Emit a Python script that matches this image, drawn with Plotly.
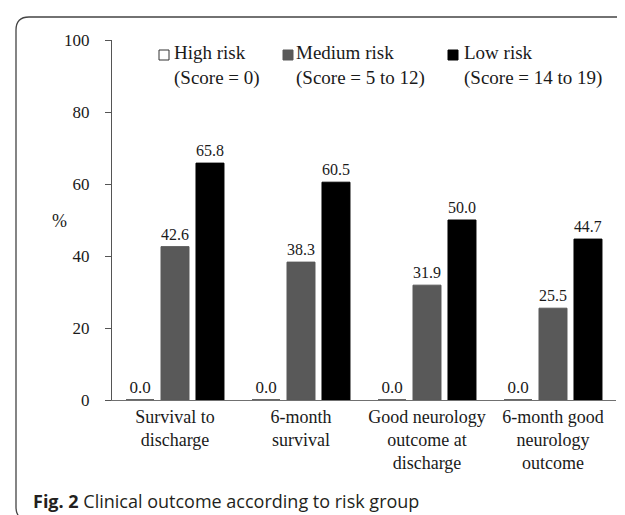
import plotly.graph_objects as go

categories = ["Survival to<br>discharge", "6-month<br>survival",
              "Good neurology<br>outcome at<br>discharge", "6-month good<br>neurology<br>outcome"]
series_names = ["High risk", "Medium risk", "Low risk"]
series_notes = ["(Score = 0)", "(Score = 5 to 12)", "(Score = 14 to 19)"]
high_risk = [0.0, 0.0, 0.0, 0.0]
medium_risk = [42.6, 38.3, 31.9, 25.5]
low_risk = [65.8, 60.5, 50.0, 44.7]
y_ticks = [0, 20, 40, 60, 80, 100]

W, H = 625, 515
L, R, T, B = 104, 17, 32, 123
pw, ph = W - L - R, H - T - B

def px(x):
    return (x - L) / pw

def py(y):
    return (H - B - y) / ph

serif = "Liberation Serif, Times New Roman, serif"
ink = "#1a1a1a"
fills = ["white", "#595959", "black"]
lines = ["#333333", "#595959", "black"]
vals = [high_risk, medium_risk, low_risk]

fig = go.Figure()
for name, v, fc, lc in zip(series_names, vals, fills, lines):
    fig.add_trace(go.Bar(
        x=categories, y=v, name=name,
        marker=dict(color=fc, line=dict(color=lc, width=1)),
        text=[f"{a:.1f}" for a in v], textposition="outside",
        textfont=dict(family=serif, size=17, color=ink),
        cliponaxis=False, showlegend=False,
    ))

# rounded frame
x0, x1 = px(8), px(660)
y0, y1 = py(512), py(9)
rx, ry = 13 / pw, 13 / ph
path = (f"M {x0+rx},{y1} L {x1},{y1} M {x1},{y0} L {x0+rx},{y0} "
        f"Q {x0},{y0} {x0},{y0+ry} L {x0},{y1-ry} Q {x0},{y1} {x0+rx},{y1}")
shapes = [dict(type="path", xref="paper", yref="paper", path=path,
               line=dict(color="#444", width=1.3))]

annotations = [
    dict(text="%", xref="paper", yref="paper", x=px(42), y=py(213),
         showarrow=False, font=dict(family=serif, size=18, color=ink)),
    dict(text="<b>Fig. 2</b> Clinical outcome according to risk group",
         xref="paper", yref="paper", x=px(23), y=py(493), xanchor="left",
         yanchor="middle", showarrow=False,
         font=dict(family="Open Sans, sans-serif", size=18, color="#231f20")),
]

# legend (manual, to match the compact key layout)
key_x = [151, 275, 440]
text_x = [164, 286, 454]
for name, note, fc, lc, kx, tx in zip(series_names, series_notes, fills, lines, key_x, text_x):
    shapes.append(dict(type="rect", xref="paper", yref="paper",
                       x0=px(kx), x1=px(kx + 10), y0=py(52), y1=py(42),
                       fillcolor=fc, line=dict(color=lc, width=1)))
    annotations.append(dict(text=f"{name}<br>{note}", xref="paper", yref="paper",
                            x=px(tx), y=py(58), xanchor="left", yanchor="middle",
                            align="left", showarrow=False,
                            font=dict(family=serif, size=19, color=ink)))

fig.update_layout(
    width=W, height=H,
    margin=dict(l=L, r=R, t=T, b=B),
    paper_bgcolor="white", plot_bgcolor="white",
    barmode="group", bargap=0.167, bargroupgap=0.2,
    font=dict(family=serif, size=18, color=ink),
    showlegend=False,
    xaxis=dict(showline=True, linecolor="#707070", linewidth=1, ticks="",
               tickfont=dict(family=serif, size=18, color=ink), showgrid=False),
    yaxis=dict(range=[0, 100], tickvals=y_ticks, showline=True, linecolor="#555",
               linewidth=1, ticks="outside", ticklen=6, tickcolor="#555",
               ticklabelstandoff=12,
               showgrid=False, zeroline=False,
               tickfont=dict(family=serif, size=17, color=ink)),
    shapes=shapes,
    annotations=annotations,
)

fig.write_html("out.html")
